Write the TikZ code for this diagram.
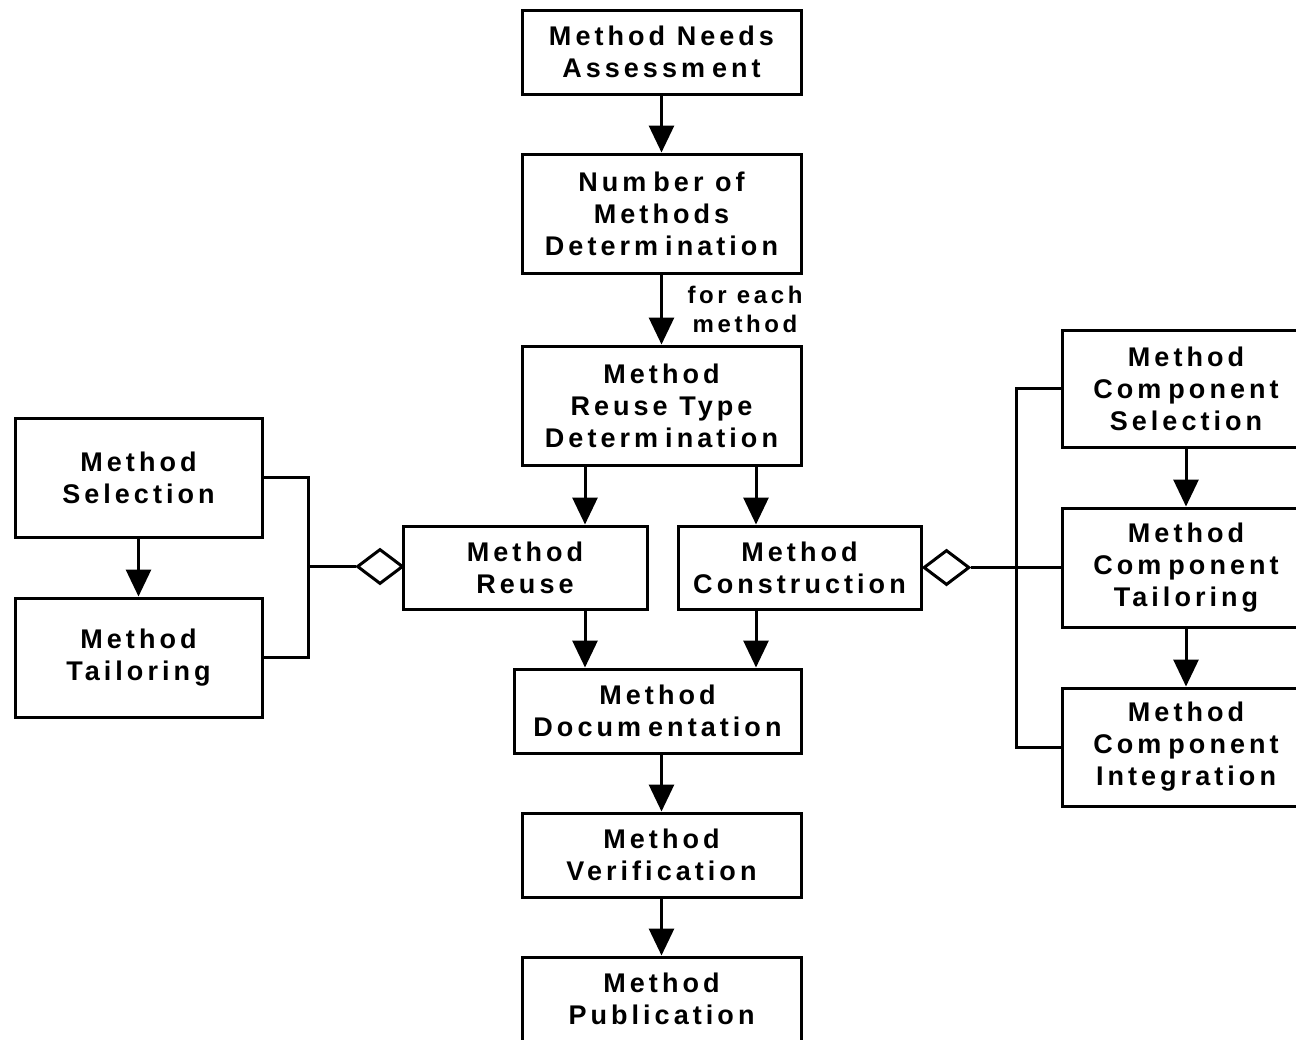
\documentclass[tikz,border=0pt]{standalone}
\usepackage{fontspec}
\setmainfont{Liberation Sans}
\newfontfamily\lsp[LetterSpace=15]{Liberation Sans}
\usetikzlibrary{shapes.geometric,arrows.meta}
\newcommand{\mk}{\kern3.5pt}
\begin{document}
\begin{tikzpicture}[x=0.5pt,y=-0.5pt,
  box/.style={draw,line width=1.5pt,align=center,inner sep=0pt,font=\lsp\bfseries\fontsize{13.5}{16}\selectfont},
  arr/.style={line width=1.5pt,-{Triangle[length=13.5pt,width=12.5pt]}},
  link/.style={line width=1.5pt},
  dia/.style={draw,diamond,line width=1.5pt,inner sep=0pt,minimum width=23pt,minimum height=17.5pt},
  lbl/.style={align=center,inner sep=0pt,font=\lsp\bfseries\fontsize{12}{14.5}\selectfont}]
\useasboundingbox (0,0) rectangle (1296,1039);
% central column
\node[box,minimum width=139.5pt,minimum height=42pt] (A) at (661.5,52) {Method Needs\\Assessm\mk ent};
\node[box,minimum width=139.5pt,minimum height=59.5pt] (B) at (661.5,213.5) {Num\mk ber of\\Methods\\Determ\mk ination};
\node[box,minimum width=139.5pt,minimum height=59.5pt] (C) at (661.5,405.5) {Method\\Reuse Type\\Determ\mk ination};
\node[box,minimum width=122pt,minimum height=41.5pt] (D) at (525,567.5) {Method\\Reuse};
\node[box,minimum width=121.5pt,minimum height=41.5pt] (E) at (799.5,567.5) {Method\\Construction};
\node[box,minimum width=143.5pt,minimum height=42pt] (F) at (657.5,711) {Method\\Docum\mk entation};
\node[box,minimum width=139.5pt,minimum height=42pt] (G) at (661.5,855) {Method\\Verification};
\node[box,minimum width=139.5pt,minimum height=42pt] (H) at (661.5,999) {Method\\Publication};
% left
\node[box,minimum width=123.5pt,minimum height=59.5pt] (I) at (138.5,477.5) {Method\\Selection};
\node[box,minimum width=123.5pt,minimum height=59.5pt] (J) at (138.5,657.5) {Method\\Tailoring};
% right
\node[box,minimum width=124pt,minimum height=58.5pt] (K) at (1186,388.5) {Method\\Com\mk ponent\\Selection};
\node[box,minimum width=124pt,minimum height=59.5pt] (L) at (1186,567.5) {Method\\Com\mk ponent\\Tailoring};
\node[box,minimum width=124pt,minimum height=59pt] (M) at (1186,747) {Method\\Com\mk ponent\\Integration};
% label
\node[lbl] (fe) at (745,309) {for each\\method};
% arrows
\draw[arr] (A) -- (B);
\draw[arr] (B) -- (C);
\draw[arr] ([xshift=-38.25pt]C.south) -- ([xshift=30pt]D.north);
\draw[arr] ([xshift=47.25pt]C.south) -- ([xshift=-21.75pt]E.north);
\draw[arr] ([xshift=30pt]D.south) -- ([xshift=-36.25pt]F.north);
\draw[arr] ([xshift=-21.75pt]E.south) -- ([xshift=49.25pt]F.north);
\draw[arr] ([xshift=2pt]F.south) -- (G.north);
\draw[arr] (G) -- (H);
\draw[arr] (I) -- (J);
\draw[arr] (K) -- (L);
\draw[arr] (L) -- (M);
% left aggregation
\node[dia] (dl) at (380,566.5) {};
\coordinate (bl) at (308,566.5);
\draw[link] (I.east) -| (bl) |- (J.east);
\draw[link] (bl) -- (dl.west);
% right aggregation
\node[dia] (dr) at (946.5,567.5) {};
\coordinate (br) at (1016,567.5);
\draw[link] (K.west) -| (br) |- (M.west);
\draw[link] (dr.east) -- (L.west);
\end{tikzpicture}
\end{document}
